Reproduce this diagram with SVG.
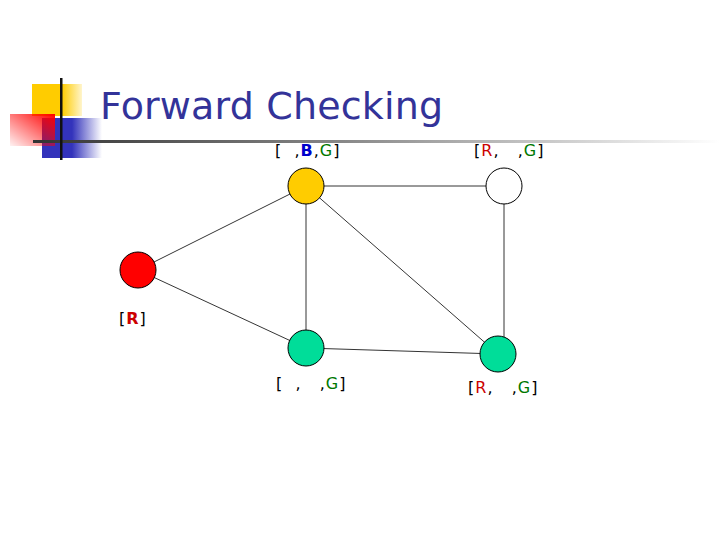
<svg xmlns="http://www.w3.org/2000/svg" width="720" height="540" viewBox="0 0 720 540">
<defs>
<linearGradient id="hl" x1="0" x2="1" y1="0" y2="0"><stop offset="0" stop-color="#333"/><stop offset="0.45" stop-color="#888"/><stop offset="1" stop-color="#fff"/></linearGradient>
<linearGradient id="bl" x1="0" x2="1"><stop offset="0.5" stop-color="#3333bb"/><stop offset="1" stop-color="#3333bb" stop-opacity="0"/></linearGradient>
<linearGradient id="rd" x1="1" x2="0" y1="0" y2="1"><stop offset="0" stop-color="#ff0000"/><stop offset="1" stop-color="#ff0000" stop-opacity="0.05"/></linearGradient>
<linearGradient id="yl" x1="0" x2="1"><stop offset="0.6" stop-color="#ffcc00"/><stop offset="1" stop-color="#ffcc00" stop-opacity="0.2"/></linearGradient>
</defs>
<style>
.n{stroke:#000;stroke-width:1}
.t{font-family:"DejaVu Sans",sans-serif;font-size:16px;fill:#000;white-space:pre;letter-spacing:1px}
.r{fill:#cc0000}.g{fill:#007700}.b{fill:#0000cc;font-weight:bold}
</style>
<g id="decor">
<rect x="32" y="84" width="50" height="32" fill="url(#yl)"/>
<rect x="42" y="118" width="60" height="40" fill="url(#bl)"/>
<rect x="10" y="114" width="45" height="32" fill="url(#rd)"/>
<rect x="33" y="140" width="687" height="3" fill="url(#hl)"/>
<rect x="60" y="78" width="2.5" height="82" fill="#111"/>
</g>
<text id="title" x="100" y="119" font-family="'DejaVu Sans',sans-serif" font-size="38" fill="#333399" textLength="343">Forward Checking</text>
<g id="edges" stroke="#000" stroke-width="0.8">
<line x1="306" y1="186" x2="504" y2="186"/>
<line x1="306" y1="186" x2="138" y2="270"/>
<line x1="306" y1="186" x2="306" y2="348"/>
<line x1="306" y1="186" x2="498" y2="354"/>
<line x1="504" y1="186" x2="504" y2="354"/>
<line x1="138" y1="270" x2="306" y2="348"/>
<line x1="306" y1="348" x2="498" y2="354"/>
</g>
<g id="n1"><circle class="n" cx="306" cy="186" r="18" fill="#ffcc00"/><text class="t" x="275" y="156" xml:space="preserve">[  ,<tspan class="b">B</tspan>,<tspan class="g">G</tspan>]</text></g>
<g id="n2"><circle class="n" cx="504" cy="186" r="18" fill="#fff"/><text class="t" x="474" y="156" xml:space="preserve">[<tspan class="r">R</tspan>,   ,<tspan class="g">G</tspan>]</text></g>
<g id="n3"><circle class="n" cx="138" cy="270" r="18" fill="#ff0000"/><text class="t" x="119" y="324">[<tspan class="r" font-weight="bold">R</tspan>]</text></g>
<g id="n4"><circle class="n" cx="306" cy="348" r="18" fill="#00dd99"/><text class="t" x="276" y="389" xml:space="preserve">[  ,   ,<tspan class="g">G</tspan>]</text></g>
<g id="n5"><circle class="n" cx="498" cy="354" r="18" fill="#00dd99"/><text class="t" x="468" y="393" xml:space="preserve">[<tspan class="r">R</tspan>,   ,<tspan class="g">G</tspan>]</text></g>
</svg>
